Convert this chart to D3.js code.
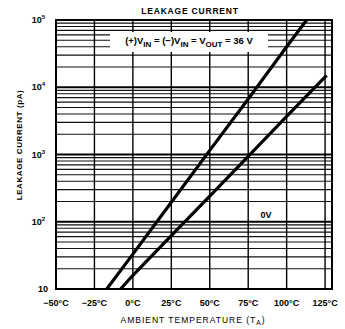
<!DOCTYPE html>
<html>
<head>
<meta charset="utf-8">
<script src="https://cdn.jsdelivr.net/npm/d3@7"></script>
<style>
  html, body { margin: 0; padding: 0; background: #fff; }
  svg { display: block; font-family: "Liberation Sans", Arial, sans-serif; }
</style>
</head>
<body>
<svg id="chart" width="345" height="329"></svg>
<script>
// Leakage current (pA) versus ambient temperature (°C)
const tempTicks = [-50, -25, 0, 25, 50, 75, 100, 125];
const decadeTicks = [10, 100, 1000, 10000, 100000];
const decadeLabels = ["10", "2", "3", "4", "5"];

// (+)VIN = (−)VIN = VOUT = 36 V
const seriesHighT = [-17, 0, 25, 50, 75, 100, 113];
const seriesHighI = [10, 33, 195, 1150, 6700, 40000, 100000];
// 0 V
const seriesZeroT = [-8, 0, 25, 50, 75, 100, 126];
const seriesZeroI = [10, 16, 62, 240, 940, 3700, 15000];

const svg = d3.select("#chart");
const m = { left: 56, right: 332, top: 20, bottom: 289 };

const x = d3.scaleLinear().domain([-50, 129.5]).range([m.left, m.right]);
const y = d3.scaleLog().domain([10, 100000]).range([m.bottom, m.top]);

const plot = svg.append("g");

// minor grid: 2..9 inside every decade
const minor = [];
decadeTicks.slice(0, -1).forEach(d => {
  for (let k = 2; k <= 9; k++) minor.push(d * k);
});
plot.selectAll("line.minor").data(minor).join("line")
  .attr("x1", m.left).attr("x2", m.right)
  .attr("y1", d => y(d)).attr("y2", d => y(d))
  .attr("stroke", "#111").attr("stroke-width", 1.1);

plot.selectAll("line.major").data(decadeTicks).join("line")
  .attr("x1", m.left).attr("x2", m.right)
  .attr("y1", d => y(d)).attr("y2", d => y(d))
  .attr("stroke", "#000").attr("stroke-width", 1.8);

plot.selectAll("line.vert").data(tempTicks.slice(1)).join("line")
  .attr("x1", d => x(d)).attr("x2", d => x(d))
  .attr("y1", m.top).attr("y2", m.bottom)
  .attr("stroke", "#000").attr("stroke-width", 1.4);

// frame
plot.append("rect")
  .attr("x", m.left).attr("y", m.top)
  .attr("width", m.right - m.left).attr("height", m.bottom - m.top)
  .attr("fill", "none").attr("stroke", "#000").attr("stroke-width", 2);

// label panel over the grid
plot.append("rect")
  .attr("x", 110).attr("y", 32).attr("width", 158).attr("height", 20)
  .attr("fill", "#fff");

svg.append("clipPath").attr("id", "plotclip").append("rect")
  .attr("x", m.left).attr("y", m.top)
  .attr("width", m.right - m.left).attr("height", m.bottom - m.top);

const line = d3.line().x(d => x(d[0])).y(d => y(d[1]));
const curves = [
  d3.zip(seriesHighT, seriesHighI),
  d3.zip(seriesZeroT, seriesZeroI)
];
svg.append("g").attr("clip-path", "url(#plotclip)")
  .selectAll("path").data(curves).join("path")
  .attr("d", line)
  .attr("fill", "none").attr("stroke", "#000").attr("stroke-width", 3.2);

// y tick labels (powers of ten)
const yl = svg.append("g").attr("font-weight", "bold").attr("font-size", 9);
decadeTicks.forEach((d, i) => {
  const t = yl.append("text")
    .attr("x", i === 0 ? 48 : 45).attr("y", y(d) + 3)
    .attr("text-anchor", "end");
  t.append("tspan").text("10");
  if (i > 0) {
    t.append("tspan").attr("dy", -4).attr("font-size", 6).text(decadeLabels[i]);
  }
});

// x tick labels
svg.append("g").attr("font-weight", "bold").attr("font-size", 9)
  .selectAll("text").data(tempTicks).join("text")
  .attr("x", d => x(d)).attr("y", 306)
  .attr("text-anchor", "middle")
  .text(d => (d < 0 ? "\u2212" + (-d) : d) + "°C");

// title
svg.append("text")
  .attr("x", 190).attr("y", 14).attr("text-anchor", "middle")
  .attr("font-weight", "bold").attr("font-size", 8.5).attr("letter-spacing", 0.8)
  .text("LEAKAGE CURRENT");

// condition label with subscripts
const cond = svg.append("text")
  .attr("x", 189).attr("y", 44).attr("text-anchor", "middle")
  .attr("font-weight", "bold").attr("font-size", 9.5);
cond.append("tspan").text("(+)V");
cond.append("tspan").attr("dy", 2.5).attr("font-size", 8).text("IN");
cond.append("tspan").attr("dy", -2.5).text(" = (\u2212)V");
cond.append("tspan").attr("dy", 2.5).attr("font-size", 8).text("IN");
cond.append("tspan").attr("dy", -2.5).text(" = V");
cond.append("tspan").attr("dy", 2.5).attr("font-size", 8).text("OUT");
cond.append("tspan").attr("dy", -2.5).text(" = 36 V");

svg.append("text")
  .attr("x", 266).attr("y", 218).attr("text-anchor", "middle")
  .attr("font-weight", "bold").attr("font-size", 9)
  .text("0V");

// axis titles
svg.append("text")
  .attr("transform", "translate(22,145) rotate(-90)")
  .attr("text-anchor", "middle")
  .attr("font-weight", "bold").attr("font-size", 8).attr("letter-spacing", 0.6)
  .text("LEAKAGE CURRENT (pA)");

const xt = svg.append("text")
  .attr("x", 193).attr("y", 323).attr("text-anchor", "middle")
  .attr("font-size", 8.5).attr("letter-spacing", 1);
xt.append("tspan").text("AMBIENT TEMPERATURE (T");
xt.append("tspan").attr("dy", 2).attr("font-size", 6.5).text("A");
xt.append("tspan").attr("dy", -2).text(")");
</script>
</body>
</html>
